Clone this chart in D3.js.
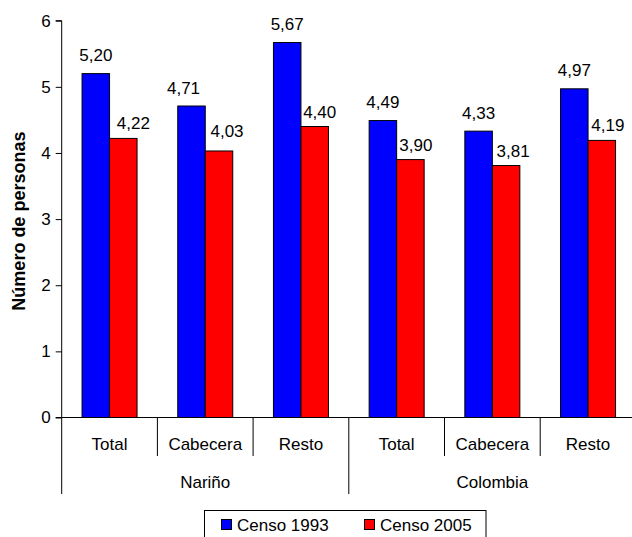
<!DOCTYPE html>
<html>
<head>
<meta charset="utf-8">
<script src="https://cdn.jsdelivr.net/npm/d3@7"></script>
<style>
  html, body { margin: 0; padding: 0; background: #fff; overflow: hidden; }
  svg { display: block; font-family: "Liberation Sans", Arial, sans-serif; }
</style>
</head>
<body>
<svg id="chart" width="632" height="537"></svg>
<script>
// Hogares: promedio de personas por hogar
const groups = ["Nariño", "Colombia"];
const categories = ["Total", "Cabecera", "Resto"];
const seriesNames = ["Censo 1993", "Censo 2005"];
const censo1993 = [5.20, 4.71, 5.67, 4.49, 4.33, 4.97];
const censo2005 = [4.22, 4.03, 4.40, 3.90, 3.81, 4.19];
const yTicks = [0, 1, 2, 3, 4, 5, 6];

const colors = ["#0000ff", "#ff0000"];

// horizontal nudges for the value labels (px)
const labelDx = [[0, -8, 0, 0, 0, 0], [10, 8, 5, 5.5, 7, 6]];

const svg = d3.select("#chart");
const fontSize = 17;

const plotLeft = 61.7, bandW = 95.7, plotTop = 20.7, plotBottom = 417.5;

// one key per bar group: group|category
const keys = [];
groups.forEach(g => categories.forEach(c => keys.push(g + "|" + c)));

const x = d3.scaleBand().domain(keys).range([plotLeft, plotLeft + bandW * keys.length]).padding(0);
const xSub = d3.scaleBand().domain(seriesNames).range([0, x.bandwidth()]).paddingInner(0).paddingOuter(0.74);
const y = d3.scaleLinear().domain([0, 6]).range([plotBottom, plotTop]);

const locale = d3.formatLocale({ decimal: ",", thousands: ".", grouping: [3], currency: ["$", ""] });
const fmt = locale.format(".2f");

const table = keys.map((k, i) => ({ key: k, values: [censo1993[i], censo2005[i]] }));

// bars and value labels
const g = svg.append("g");
table.forEach((row, i) => {
  row.values.forEach((v, s) => {
    g.append("rect")
      .attr("x", x(row.key) + xSub(seriesNames[s]))
      .attr("y", y(v))
      .attr("width", xSub.bandwidth())
      .attr("height", y(0) - y(v))
      .attr("fill", colors[s])
      .attr("stroke", "#000")
      .attr("stroke-width", 1);
    g.append("text")
      .attr("x", x(row.key) + xSub(seriesNames[s]) + xSub.bandwidth() / 2 + labelDx[s][i])
      .attr("y", y(v) - (s === 0 ? 12.5 : (i === 1 ? 13.5 : 9)))
      .attr("text-anchor", "middle")
      .attr("font-size", fontSize)
      .attr("fill", "#000")
      .text(fmt(v));
  });
});

// y axis
const yAxis = d3.axisLeft(y).tickValues(yTicks).tickFormat(d3.format("d")).tickSize(6).tickPadding(5);
const ya = svg.append("g").attr("transform", `translate(${plotLeft},0)`).call(yAxis);
ya.select(".domain").attr("stroke", "#000").attr("d", `M-6,${plotTop}H0V${plotBottom}H-6`);
ya.selectAll(".tick line").attr("stroke", "#000");
ya.selectAll(".tick text").attr("font-size", fontSize).attr("font-family", "Liberation Sans, Arial, sans-serif").attr("fill", "#000");

// x baseline
const plotRight = plotLeft + bandW * keys.length;
svg.append("line").attr("x1", plotLeft).attr("x2", plotRight).attr("y1", plotBottom).attr("y2", plotBottom)
  .attr("stroke", "#000");

// category dividers and labels
keys.forEach((k, i) => {
  const x0 = x(k);
  const isGroupEdge = i % categories.length === 0;
  svg.append("line")
    .attr("x1", x0).attr("x2", x0)
    .attr("y1", plotBottom).attr("y2", isGroupEdge ? 494 : 456)
    .attr("stroke", "#000");
  svg.append("text")
    .attr("x", x0 + x.bandwidth() / 2)
    .attr("y", 450)
    .attr("text-anchor", "middle")
    .attr("font-size", fontSize)
    .text(k.split("|")[1]);
});
svg.append("line").attr("x1", plotRight).attr("x2", plotRight).attr("y1", plotBottom).attr("y2", 494).attr("stroke", "#000");

// group labels
groups.forEach((gName, gi) => {
  const x0 = x(keys[gi * categories.length]);
  const x1 = x(keys[gi * categories.length + categories.length - 1]) + x.bandwidth();
  svg.append("text")
    .attr("x", (x0 + x1) / 2)
    .attr("y", 488)
    .attr("text-anchor", "middle")
    .attr("font-size", fontSize)
    .text(gName);
});

// y axis title
svg.append("text")
  .attr("transform", `translate(25,${(plotTop + plotBottom) / 2 + 2}) rotate(-90)`)
  .attr("text-anchor", "middle")
  .attr("font-size", 18)
  .attr("font-weight", "bold")
  .text("Número de personas");

// legend
const lg = svg.append("g");
lg.append("rect").attr("x", 204.5).attr("y", 510.5).attr("width", 281.5).attr("height", 40)
  .attr("fill", "#fff").attr("stroke", "#000");
const legendX = [221.5, 364.5];
seriesNames.forEach((name, s) => {
  lg.append("rect").attr("x", legendX[s]).attr("y", 519.5).attr("width", 10).attr("height", 10)
    .attr("fill", colors[s]).attr("stroke", "#000");
  lg.append("text").attr("x", legendX[s] + 15.5).attr("y", 530.5)
    .attr("font-size", fontSize).text(name);
});
</script>
</body>
</html>
